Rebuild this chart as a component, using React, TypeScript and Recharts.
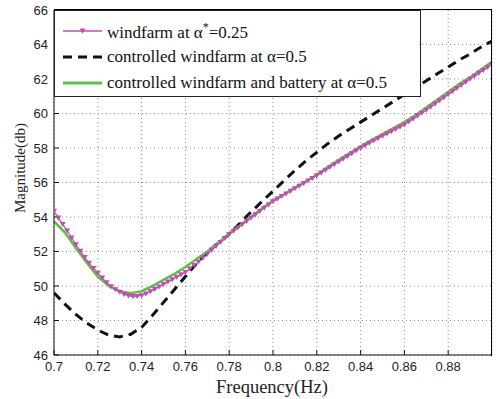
import React from "react";
import {
  LineChart,
  Line,
  XAxis,
  YAxis,
  CartesianGrid,
  Legend,
  Label,
} from "recharts";

// frequency grid for the marked series (Hz)
const freqFine = [
  0.7, 0.702, 0.704, 0.706, 0.708, 0.71, 0.712, 0.714, 0.716, 0.718,
  0.72, 0.722, 0.724, 0.726, 0.728, 0.73, 0.732, 0.734, 0.736, 0.738,
  0.74, 0.742, 0.744, 0.746, 0.748, 0.75, 0.752, 0.754, 0.756, 0.758,
  0.76, 0.762, 0.764, 0.766, 0.768, 0.77, 0.772, 0.774, 0.776, 0.778,
  0.78, 0.782, 0.784, 0.786, 0.788, 0.79, 0.792, 0.794, 0.796, 0.798,
  0.8, 0.802, 0.804, 0.806, 0.808, 0.81, 0.812, 0.814, 0.816, 0.818,
  0.82, 0.822, 0.824, 0.826, 0.828, 0.83, 0.832, 0.834, 0.836, 0.838,
  0.84, 0.842, 0.844, 0.846, 0.848, 0.85, 0.852, 0.854, 0.856, 0.858,
  0.86, 0.862, 0.864, 0.866, 0.868, 0.87, 0.872, 0.874, 0.876, 0.878,
  0.88, 0.882, 0.884, 0.886, 0.888, 0.89, 0.892, 0.894, 0.896, 0.898,
  0.9,
];

// windfarm at alpha* = 0.25
const windfarm = [
  54.35, 53.95, 53.58, 53.2, 52.8, 52.4, 52.03, 51.67, 51.33, 51.03,
  50.75, 50.47, 50.2, 49.97, 49.8, 49.65, 49.53, 49.44, 49.4, 49.41,
  49.45, 49.55, 49.68, 49.82, 49.96, 50.1, 50.24, 50.38, 50.52, 50.66,
  50.8, 51.0, 51.2, 51.41, 51.63, 51.85, 52.08, 52.31, 52.54, 52.77,
  53.0, 53.19, 53.38, 53.57, 53.76, 53.95, 54.14, 54.33, 54.52, 54.71,
  54.9, 55.05, 55.2, 55.35, 55.5, 55.65, 55.8, 55.95, 56.1, 56.25,
  56.4, 56.56, 56.72, 56.88, 57.04, 57.2, 57.36, 57.52, 57.68, 57.84,
  58.0, 58.14, 58.28, 58.42, 58.56, 58.7, 58.83, 58.96, 59.09, 59.22,
  59.35, 59.52, 59.69, 59.86, 60.03, 60.2, 60.38, 60.56, 60.74, 60.92,
  61.1, 61.28, 61.46, 61.64, 61.82, 62.0, 62.17, 62.34, 62.51, 62.68,
  62.85,
];

const freqCoarse = [
  0.7, 0.705, 0.71, 0.715, 0.72, 0.725, 0.73, 0.735, 0.74, 0.745,
  0.75, 0.755, 0.76, 0.765, 0.77, 0.775, 0.78, 0.785, 0.79, 0.795,
  0.8, 0.805, 0.81, 0.815, 0.82, 0.825, 0.83, 0.835, 0.84, 0.845,
  0.85, 0.855, 0.86, 0.865, 0.87, 0.875, 0.88, 0.885, 0.89, 0.895,
  0.9,
];

// controlled windfarm at alpha = 0.5
const controlled = [
  49.6, 48.95, 48.35, 47.85, 47.45, 47.15, 47.05, 47.2, 47.6, 48.3,
  49.05, 49.8, 50.55, 51.3, 51.95, 52.5, 53.0, 53.65, 54.3, 54.9,
  55.5, 56.1, 56.7, 57.25, 57.75, 58.25, 58.7, 59.1, 59.5, 59.9,
  60.3, 60.7, 61.1, 61.5, 61.9, 62.3, 62.7, 63.1, 63.45, 63.85,
  64.2,
];

// controlled windfarm and battery at alpha = 0.5
const withBattery = [
  53.75, 53.1, 52.2, 51.35, 50.55, 50.0, 49.7, 49.58, 49.7, 50.0,
  50.35, 50.7, 51.1, 51.55, 52.0, 52.5, 53.05, 53.5, 54.0, 54.5,
  54.95, 55.3, 55.7, 56.05, 56.45, 56.9, 57.3, 57.7, 58.1, 58.45,
  58.8, 59.15, 59.5, 59.9, 60.35, 60.8, 61.25, 61.7, 62.1, 62.55,
  63.0,
];

const xTicks = [0.7, 0.72, 0.74, 0.76, 0.78, 0.8, 0.82, 0.84, 0.86, 0.88];
const yTicks = [46, 48, 50, 52, 54, 56, 58, 60, 62, 64, 66];

const MAGENTA = "#c34bb4";
const GREEN = "#62bf45";

const fineData = freqFine.map((f, i) => ({ f, v: windfarm[i] }));
const ctrlData = freqCoarse.map((f, i) => ({ f, v: controlled[i] }));
const battData = freqCoarse.map((f, i) => ({ f, v: withBattery[i] }));

const serif = "'Liberation Serif', 'Times New Roman', serif";
const sans = "'Liberation Sans', Arial, sans-serif";

const TriDot = (props: any) => {
  const { cx, cy, index } = props;
  if (cx == null || cy == null) return <g key={`d-${index}`} />;
  return (
    <path
      key={`d-${index}`}
      d={`M${cx - 3},${cy - 2.3} L${cx + 3},${cy - 2.3} L${cx},${cy + 2.8} Z`}
      fill={MAGENTA}
    />
  );
};

const LegendBox = () => (
  <div
    style={{
      width: 365,
      height: 85,
      border: "1px solid #222",
      background: "#fff",
      fontFamily: serif,
      fontSize: 17,
      color: "#111",
      boxSizing: "content-box",
    }}
  >
    <div style={{ display: "flex", alignItems: "center", height: 26, marginTop: 7 }}>
      <svg width={52} height={14}>
        <line x1={8} y1={7} x2={47} y2={7} stroke={MAGENTA} strokeWidth={1.3} />
        <path d="M24.5,4.6 L30.5,4.6 L27.5,9.8 Z" fill={MAGENTA} />
      </svg>
      <span>
        windfarm at α<sup style={{ fontSize: 12 }}>*</sup>=0.25
      </span>
    </div>
    <div style={{ display: "flex", alignItems: "center", height: 26 }}>
      <svg width={52} height={14}>
        <line x1={8} y1={7} x2={47} y2={7} stroke="#111" strokeWidth={3} strokeDasharray="9 6" />
      </svg>
      <span>controlled windfarm at α=0.5</span>
    </div>
    <div style={{ display: "flex", alignItems: "center", height: 26 }}>
      <svg width={52} height={14}>
        <line x1={8} y1={7} x2={47} y2={7} stroke={GREEN} strokeWidth={3} />
      </svg>
      <span>controlled windfarm and battery at α=0.5</span>
    </div>
  </div>
);

export default function App() {
  return (
    <div style={{ position: "absolute", left: 0, top: 0, background: "#fff" }}>
      <LineChart
        width={499}
        height={399}
        margin={{ top: 10, right: 7, bottom: 0, left: 0 }}
      >
        <CartesianGrid stroke="#8a8a8a" strokeDasharray="1 3" />
        <XAxis
          dataKey="f"
          type="number"
          domain={[0.7, 0.9]}
          ticks={xTicks}
          allowDataOverflow
          height={44}
          tickSize={-5}
          tickMargin={12}
          stroke="#111"
          tick={{ fill: "#222", fontSize: 13, fontFamily: sans }}
          tickFormatter={(v) => String(v)}
        >
          <Label
            content={() => (
              <text
                x={272}
                y={393}
                textAnchor="middle"
                style={{ fontFamily: serif, fontSize: 18.5, fill: "#222" }}
              >
                Frequency(Hz)
              </text>
            )}
          />
        </XAxis>
        <YAxis
          type="number"
          domain={[46, 66]}
          ticks={yTicks}
          allowDataOverflow
          width={54}
          tickSize={-5}
          tickMargin={11}
          stroke="#111"
          tick={{ fill: "#222", fontSize: 13, fontFamily: sans }}
        >
          <Label
            content={() => (
              <text
                x={20}
                y={168}
                transform="rotate(-90 20 168)"
                textAnchor="middle"
                dominantBaseline="central"
                style={{ fontFamily: serif, fontSize: 15, fill: "#222" }}
              >
                Magnitude(db)
              </text>
            )}
          />
        </YAxis>
        <Legend
          layout="vertical"
          align="center"
          verticalAlign="middle"
          wrapperStyle={{ left: 54, top: 10, width: 367, height: 87 }}
          content={() => <LegendBox />}
        />
        <Line
          data={fineData}
          dataKey="v"
          name="windfarm"
          stroke={MAGENTA}
          strokeWidth={1.2}
          dot={TriDot}
          activeDot={false}
          isAnimationActive={false}
        />
        <Line
          data={ctrlData}
          dataKey="v"
          name="controlled"
          stroke="#111"
          strokeWidth={3}
          strokeDasharray="9 6"
          dot={false}
          activeDot={false}
          isAnimationActive={false}
        />
        <Line
          data={battData}
          dataKey="v"
          name="battery"
          stroke={GREEN}
          strokeWidth={2.6}
          dot={false}
          activeDot={false}
          isAnimationActive={false}
        />
      </LineChart>
      {/* top and right edges of the axes box */}
      <div
        style={{
          position: "absolute",
          left: 54,
          top: 9,
          width: 437,
          height: 346,
          borderTop: "1.5px solid #000",
          borderRight: "1.5px solid #000",
          pointerEvents: "none",
        }}
      />
    </div>
  );
}
